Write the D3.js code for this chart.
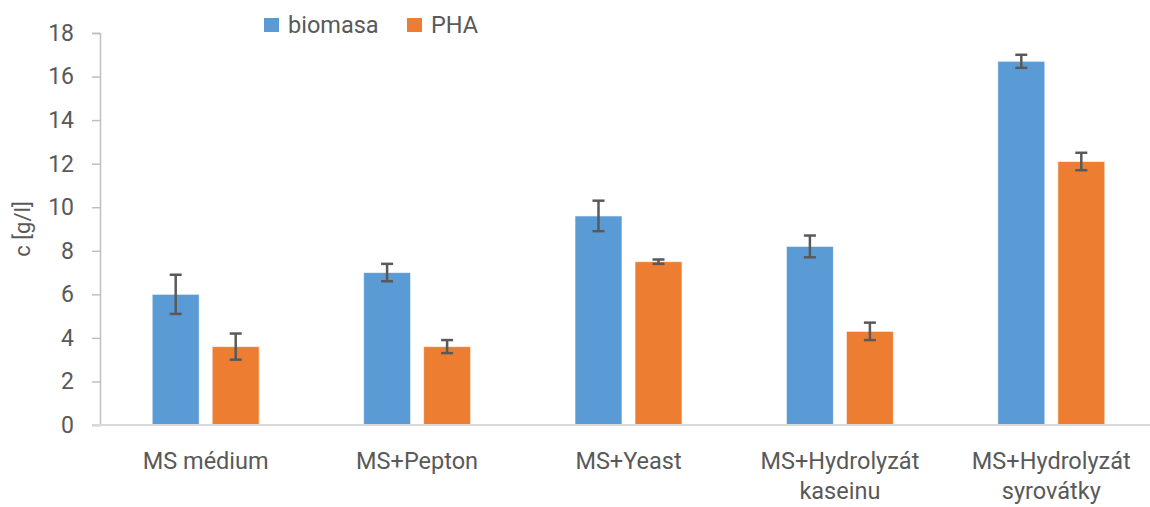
<!DOCTYPE html>
<html>
<head>
<meta charset="utf-8">
<script src="https://cdn.jsdelivr.net/npm/d3@7"></script>
<style>
  body { margin: 0; background: #fff; }
  svg text { font-family: Roboto, "Liberation Sans", sans-serif; fill: #595959; }
</style>
</head>
<body>
<div id="chart"></div>
<script>
// chart data
const categories = [["MS médium"], ["MS+Pepton"], ["MS+Yeast"], ["MS+Hydrolyzát", "kaseinu"], ["MS+Hydrolyzát", "syrovátky"]];
const seriesNames = ["biomasa", "PHA"];
const biomasa = [6.0, 7.0, 9.6, 8.2, 16.7];
const biomasaErr = [0.9, 0.4, 0.7, 0.5, 0.3];
const pha = [3.6, 3.6, 7.5, 4.3, 12.1];
const phaErr = [0.6, 0.3, 0.1, 0.4, 0.4];
const yTicks = [0, 2, 4, 6, 8, 10, 12, 14, 16, 18];
const colors = ["#5B9BD5", "#ED7D31"];

const width = 1150, height = 507;
const margin = { left: 100, right: -7, top: 33, bottom: 82 };

const svg = d3.select("#chart").append("svg")
    .attr("width", width)
    .attr("height", height);

const keys = categories.map((c, i) => i);
const x = d3.scaleBand()
    .domain(keys)
    .range([margin.left, width - margin.right])
    .paddingInner(0)
    .paddingOuter(0);

const x1 = d3.scaleBand()
    .domain(seriesNames)
    .range([0, x.bandwidth()])
    .paddingInner(0.217)
    .paddingOuter(0.87);

const y = d3.scaleLinear()
    .domain([0, 18])
    .range([height - margin.bottom, margin.top]);

// y axis
const yAxis = svg.append("g")
    .attr("transform", `translate(${margin.left},0)`)
    .call(d3.axisLeft(y).tickValues(yTicks).tickSize(8).tickPadding(18));
yAxis.select(".domain").attr("stroke", "#bfbfbf").attr("stroke-width", 1.5);
yAxis.selectAll(".tick line").attr("stroke", "#bfbfbf").attr("stroke-width", 1.5);
yAxis.selectAll(".tick text").attr("font-size", 23).attr("fill", "#595959");

svg.append("text")
    .attr("transform", `translate(30,${y(9)}) rotate(-90)`)
    .attr("text-anchor", "middle")
    .attr("font-size", 22)
    .text("c [g/l]");

// bars
const data = seriesNames.map((s, si) => ({
    name: s,
    values: si === 0 ? biomasa : pha,
    errs: si === 0 ? biomasaErr : phaErr
}));

const groups = svg.append("g").selectAll("g")
    .data(data)
    .join("g")
    .attr("fill", (d, i) => colors[i]);

groups.selectAll("rect")
    .data(d => d.values.map((v, i) => ({ s: d.name, i, v })))
    .join("rect")
    .attr("x", d => x(d.i) + x1(d.s))
    .attr("width", x1.bandwidth())
    .attr("y", d => y(d.v))
    .attr("height", d => y(0) - y(d.v))
    .attr("stroke", "#fff")
    .attr("stroke-opacity", 0.6)
    .attr("stroke-width", 1);

// x axis line
svg.append("line")
    .attr("x1", margin.left - 8)
    .attr("x2", width)
    .attr("y1", y(0))
    .attr("y2", y(0))
    .attr("stroke", "#d9d9d9")
    .attr("stroke-width", 2);

// error bars
const errs = svg.append("g")
    .attr("stroke", "#595959")
    .attr("stroke-width", 2.5)
    .selectAll("g")
    .data(data.flatMap(d => d.values.map((v, i) => ({ s: d.name, i, v, e: d.errs[i] }))))
    .join("g")
    .attr("transform", d => `translate(${x(d.i) + x1(d.s) + x1.bandwidth() / 2},0)`);

errs.append("line")
    .attr("y1", d => y(d.v + d.e))
    .attr("y2", d => y(d.v - d.e));
errs.append("line")
    .attr("x1", -6).attr("x2", 6)
    .attr("y1", d => y(d.v + d.e)).attr("y2", d => y(d.v + d.e));
errs.append("line")
    .attr("x1", -6).attr("x2", 6)
    .attr("y1", d => y(d.v - d.e)).attr("y2", d => y(d.v - d.e));

// category labels
const labels = svg.append("g").selectAll("text")
    .data(categories)
    .join("text")
    .attr("text-anchor", "middle")
    .attr("font-size", 23.5)
    .attr("x", (d, i) => x(i) + x.bandwidth() / 2)
    .attr("y", 469);
labels.selectAll("tspan")
    .data(d => d)
    .join("tspan")
    .attr("x", function () { return d3.select(this.parentNode).attr("x"); })
    .attr("dy", (d, i) => i === 0 ? 0 : 30)
    .text(d => d);

// legend
const legend = svg.append("g").selectAll("g")
    .data(seriesNames)
    .join("g")
    .attr("transform", (d, i) => `translate(${264 + i * 143},18)`);
legend.append("rect")
    .attr("width", 15)
    .attr("height", 14)
    .attr("fill", (d, i) => colors[i]);
legend.append("text")
    .attr("x", 24)
    .attr("y", 15)
    .attr("font-size", 23.5)
    .text(d => d);
</script>
</body>
</html>
